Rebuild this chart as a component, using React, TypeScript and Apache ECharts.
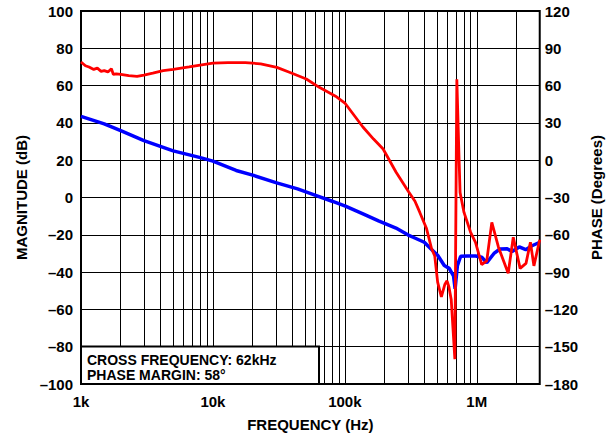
import React, { useEffect, useRef } from "react";
import * as echarts from "echarts";

// Magnitude (blue, left axis, dB)
const magFreq = [1000, 1500, 2000, 3000, 5000, 7900, 10000, 15000, 20000, 30000, 43800, 60800, 80000, 101000, 140000, 180000, 244000, 300000, 339000, 400000, 450000, 505000, 567000, 618000, 666000, 685000, 713000, 755000, 850000, 978000, 1090000, 1190000, 1350000, 1500000, 1700000, 1850000, 2100000, 2350000, 2600000, 3000000];
const magnitude = [43.5, 39.5, 35.8, 30.5, 25, 21.5, 19.5, 14.5, 12, 8, 4.6, 1, -2, -4.6, -9, -12.5, -16.4, -20, -21.7, -24, -27.6, -31, -36.5, -38, -42, -49, -36.5, -31.5, -31.4, -31.4, -32, -35, -30, -27.6, -27.5, -29, -26.5, -28, -26, -24];

// Phase (red, right axis, degrees)
const phaseFreq = [1000, 1080, 1150, 1250, 1330, 1420, 1500, 1600, 1700, 1760, 1850, 2000, 2300, 2660, 3000, 3500, 4200, 5000, 6600, 8000, 10000, 13000, 17600, 23000, 30500, 38000, 51000, 64000, 85000, 100000, 137000, 165000, 195000, 244000, 305000, 340000, 370000, 416000, 454000, 480000, 505000, 539000, 572000, 595000, 615000, 640000, 682000, 706000, 734000, 747000, 800000, 898000, 978000, 1090000, 1190000, 1300000, 1460000, 1730000, 1890000, 2130000, 2360000, 2550000, 2710000, 3000000];
const phase = [79, 76, 75, 73, 74, 71.5, 72, 71, 73.5, 69, 69.5, 69, 68, 67.5, 68.5, 70, 72, 73, 75, 76.5, 78, 78.5, 78.5, 77.5, 74.7, 70.7, 65.3, 58.6, 51.5, 46, 26.7, 17, 9, -9.5, -25.6, -33, -42, -55, -71, -77, -98, -110, -100, -97, -102, -112, -160, 65, 1, -26, -42, -58, -66, -84, -81, -50, -70, -91, -62, -87, -83, -66, -85, -64];

const decadeLabels: Record<number, string> = { 1000: "1k", 10000: "10k", 100000: "100k", 1000000: "1M" };
const decades = [1000, 10000, 100000, 1000000];
const minorMultipliers = [2, 3, 4, 5, 6, 7, 8, 9];
const xMin = 1000;
const xMax = 3000000;

const annotationLines = ["CROSS FREQUENCY: 62kHz", "PHASE MARGIN: 58°"];

const FONT = '"Liberation Sans", Arial, Helvetica, sans-serif';

export default function App() {
  const ref = useRef<HTMLDivElement>(null);
  useEffect(() => {
    if (!ref.current) return;
    const chart = echarts.init(ref.current, null, { renderer: "svg" });
    const minorValues: number[] = [];
    decades.forEach((d) => minorMultipliers.forEach((m) => { if (d * m < xMax) minorValues.push(d * m); }));
    const dash = (v: number) => String(v).replace("-", "\u2013");
    const labelStyle = { fontSize: 15, fontWeight: "bold" as const, color: "#000", fontFamily: FONT };
    chart.setOption({
      animation: false,
      backgroundColor: "#fff",
      grid: { left: 81, right: 64, top: 11, bottom: 54, show: true, borderColor: "#000", borderWidth: 2, backgroundColor: "transparent" },
      xAxis: {
        type: "log",
        logBase: 10,
        min: xMin,
        max: xMax,
        name: "FREQUENCY (Hz)",
        nameLocation: "middle",
        nameGap: 33,
        nameTextStyle: labelStyle,
        axisLine: { show: false },
        axisTick: { show: false },
        splitLine: { show: true, lineStyle: { color: "#000", width: 1 } },
        axisLabel: { ...labelStyle, margin: 10, formatter: (v: number) => decadeLabels[Math.round(v)] || "" },
      },
      yAxis: [
        {
          type: "value",
          min: -100,
          max: 100,
          interval: 20,
          name: "MAGNITUDE (dB)",
          nameLocation: "middle",
          nameRotate: 90,
          nameGap: 52,
          nameTextStyle: labelStyle,
          axisLine: { show: false },
          axisTick: { show: false },
          splitLine: { show: true, lineStyle: { color: "#000", width: 1 } },
          axisLabel: { ...labelStyle, margin: 8, formatter: dash },
        },
        {
          type: "value",
          min: -180,
          max: 120,
          interval: 30,
          name: "PHASE (Degrees)",
          nameLocation: "middle",
          nameRotate: 90,
          nameGap: 43,
          nameTextStyle: labelStyle,
          axisLine: { show: false },
          axisTick: { show: false },
          splitLine: { show: false },
          axisLabel: { ...labelStyle, margin: 5, formatter: dash },
        },
      ],
      series: [
        {
          type: "line",
          data: [],
          z: 1,
          silent: true,
          markLine: {
            silent: true,
            symbol: ["none", "none"],
            label: { show: false },
            lineStyle: { color: "#000", width: 1, type: "solid" },
            emphasis: { disabled: true },
            data: minorValues.map((v) => ({ xAxis: v })),
          },
        },
        {
          type: "line",
          name: "Magnitude",
          yAxisIndex: 0,
          z: 5,
          showSymbol: false,
          silent: true,
          lineStyle: { color: "#0000ff", width: 3.5 },
          itemStyle: { color: "#0000ff" },
          data: magFreq.map((f, i) => [f, magnitude[i]]),
        },
        {
          type: "line",
          name: "Phase",
          yAxisIndex: 1,
          z: 6,
          showSymbol: false,
          silent: true,
          lineStyle: { color: "#ff0000", width: 2.8 },
          itemStyle: { color: "#ff0000" },
          data: phaseFreq.map((f, i) => [f, phase[i]]),
        },
      ],
      graphic: [
        {
          type: "rect",
          z: 100,
          shape: { x: 81, y: 346.5, width: 238, height: 37.5 },
          style: { fill: "#fff", stroke: "#000", lineWidth: 2 },
        },
        {
          type: "text",
          z: 101,
          x: 87,
          y: 359.5,
          style: { text: annotationLines[0], font: `bold 14px ${FONT}`, fill: "#000", verticalAlign: "middle" },
        },
        {
          type: "text",
          z: 101,
          x: 87,
          y: 374.5,
          style: { text: annotationLines[1], font: `bold 14px ${FONT}`, fill: "#000", verticalAlign: "middle" },
        },
      ],
    });
    return () => chart.dispose();
  }, []);
  return <div ref={ref} style={{ position: "absolute", left: 0, top: 0, width: 612, height: 438, background: "#fff" }} />;
}
